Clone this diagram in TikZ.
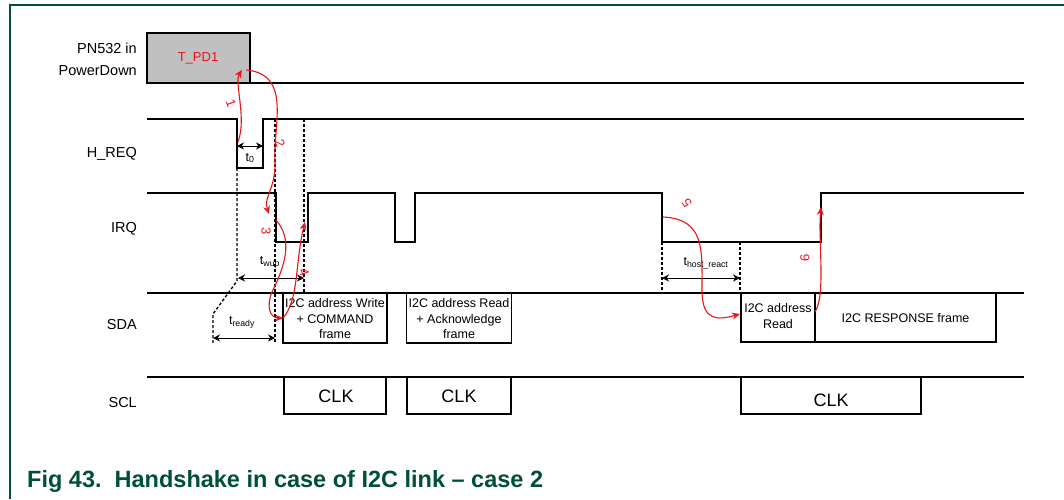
\documentclass[tikz,border=0pt]{standalone}
\usepackage{fontspec}
\setmainfont{Liberation Sans}
\usetikzlibrary{arrows.meta}
\definecolor{nxpgreen}{RGB}{0,80,55}
\definecolor{arrred}{RGB}{235,20,25}
\definecolor{pdgray}{RGB}{192,192,192}
\tikzset{
  sig/.style={line width=1.8pt, line join=miter},
  framebox/.style={draw, line width=1.6pt, inner sep=0pt},
  dashln/.style={dashed, dash pattern=on 3pt off 2pt, line width=1.3pt},
  dim/.style={{Stealth[length=7pt,width=7pt]}-{Stealth[length=7pt,width=7pt]}, line width=1pt},
  redarr/.style={arrred, line width=1.1pt, -{Stealth[length=8pt,width=7pt]}},
  rednum/.style={text=arrred, font=\fontsize{13}{13}\selectfont, inner sep=0pt},
  siglabel/.style={anchor=base east, font=\fontsize{14.5}{16}\selectfont, inner sep=0pt},
  boxtext/.style={align=center, font=\fontsize{12.5}{15.5}\selectfont, inner sep=0pt},
  clktext/.style={font=\fontsize{18}{18}\selectfont, inner sep=0pt},
  tlabel/.style={font=\fontsize{12.5}{13}\selectfont, inner sep=0pt}
}
\begin{document}
\begin{tikzpicture}[x=1pt,y=-1pt]
\useasboundingbox (0,0) rectangle (1064,499);
% frame
\draw[nxpgreen, line width=1.4pt] (10,499) -- (10,5) -- (1064,5);

% caption
\node[anchor=base west, text=nxpgreen, font=\bfseries\fontsize{23.5}{24}\selectfont, inner sep=0pt] (cap) at (27,487) {Fig 43.\ \ Handshake in case of I2C link -- case 2};

% signal labels
\node[siglabel] (lpn1) at (137,53) {PN532 in};
\node[siglabel] (lpn2) at (137,75) {PowerDown};
\node[siglabel] (lhreq) at (137,157) {H\_REQ};
\node[siglabel] (lirq) at (137,232) {IRQ};
\node[siglabel] (lsda) at (137,329) {SDA};
\node[siglabel] (lscl) at (137,407) {SCL};

% PN532 power down
\draw[sig, fill=pdgray] (147,83) -- (147,33) -- (250,33) -- (250,83) -- cycle;
\node[text=arrred, font=\fontsize{13}{13}\selectfont, inner sep=0pt] (tpd) at (198,58) {T\_PD1};
\draw[sig] (250,83) -- (1024,83);

% H_REQ
\draw[sig] (147,119) -- (237,119) -- (237,168) -- (263,168) -- (263,119) -- (1024,119);

% IRQ
\draw[sig] (147,193) -- (276,193) -- (276,242) -- (308,242) -- (308,193) -- (395,193) -- (395,242) -- (415,242) -- (415,193) -- (662,193) -- (662,242) -- (821,242) -- (821,193) -- (1024,193);

% SDA
\draw[sig] (147,293) -- (1024,293);
\node[framebox, minimum width=104pt, minimum height=50pt] (sda1) at (335,318) {};
\node[boxtext] (sda1t) at (335,319) {I2C address Write\\+ COMMAND\\frame};
\node[framebox, minimum width=105pt, minimum height=50pt] (sda2) at (459,318) {};
\node[boxtext] (sda2t) at (459,319) {I2C address Read\\+ Acknowledge\\frame};
\node[framebox, fill=white, minimum width=74pt, minimum height=49pt] (sda3) at (778,317.5) {};
\node[boxtext] (sda3t) at (778,316) {I2C address\\Read};
\node[framebox, fill=white, minimum width=181pt, minimum height=49pt] (sda4) at (905.5,317.5) {};
\node[boxtext] (sda4t) at (905.5,318) {I2C RESPONSE frame};

% SCL
\draw[sig] (147,377) -- (1024,377);
\node[framebox, fill=white, minimum width=102pt, minimum height=37pt] (clk1) at (335,395.5) {};
\node[clktext] (clk1t) at (336,396) {CLK};
\node[framebox, fill=white, minimum width=104pt, minimum height=37pt] (clk2) at (459,395.5) {};
\node[clktext] (clk2t) at (459,396) {CLK};
\node[framebox, fill=white, minimum width=180pt, minimum height=37pt] (clk3) at (831,395.5) {};
\node[clktext] (clk3t) at (831,400) {CLK};

% dashed timing lines
\draw[dashln] (237,168) -- (237,281) -- (213,314) -- (213,343);
\draw[dashln] (275,119) -- (275,343);
\draw[dashln] (304,119) -- (304,293);
\draw[dashln] (662,242) -- (662,293);
\draw[dashln] (740,242) -- (740,293);

% dimension arrows
\coordinate (t0a) at (237,146);
\coordinate (t0b) at (263,146);
\draw[dim] (t0a) -- (t0b);
\node[tlabel] (t0l) at (250,158) {t\textsubscript{0}};
\coordinate (twa) at (238,278);
\coordinate (twb) at (304,278);
\draw[dim] (twa) -- (twb);
\node[tlabel] (twl) at (270,262) {t\textsubscript{wup}};
\coordinate (tra) at (213,338);
\coordinate (trb) at (275,338);
\draw[dim] (tra) -- (trb);
\node[tlabel] (trl) at (242,322) {t\textsubscript{ready}};
\coordinate (tha) at (662,278);
\coordinate (thb) at (740,278);
\draw[dim] (tha) -- (thb);
\node[tlabel] (thl) at (706,263) {t\textsubscript{host\_react}};

% red handshake arrows
\coordinate (r1s) at (238,142);
\coordinate (r1e) at (242,70);
\draw[redarr] (r1s) .. controls (247,118) and (234,82) .. (r1e);
\node[rednum, rotate=-70] (n1) at (231,103) {1};

\coordinate (r2s) at (246,70);
\coordinate (r2m) at (275,160);
\coordinate (r2e) at (269,214);
\draw[redarr] (r2s) .. controls (292,74) and (273,125) .. (r2m) .. controls (276,190) and (263,196) .. (r2e);
\node[rednum, rotate=-70] (n2) at (280,143) {2};

\coordinate (r3s) at (276,220);
\coordinate (r3m) at (272,292);
\coordinate (r3e) at (283,318);
\draw[redarr] (r3s) .. controls (294,240) and (284,268) .. (r3m) .. controls (266,306) and (270,318) .. (r3e);
\node[rednum, rotate=-90] (n3) at (266,231) {3};

\coordinate (r4s) at (283,318);
\coordinate (r4e) at (305,222);
\draw[redarr] (r4s) .. controls (299,300) and (295,262) .. (r4e);
\node[rednum, rotate=-70] (n4) at (304,272) {4};

\coordinate (r5s) at (663,217);
\coordinate (r5m) at (702,290);
\coordinate (r5e) at (740,314);
\draw[redarr] (r5s) .. controls (705,219) and (702,250) .. (r5m) .. controls (702,322) and (718,320) .. (r5e);
\node[rednum, rotate=125] (n5) at (687,203) {5};

\coordinate (r6s) at (815,312);
\coordinate (r6e) at (821,207);
\draw[redarr] (r6s) .. controls (826,295) and (818,240) .. (r6e);
\node[rednum, rotate=90] (n6) at (805,258) {6};
\end{tikzpicture}
\end{document}
